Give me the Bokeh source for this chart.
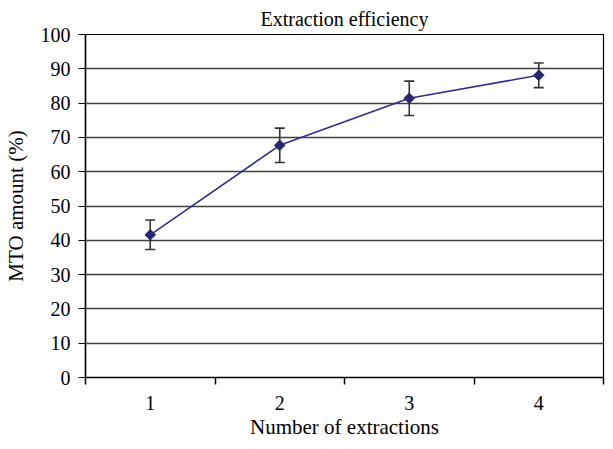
from bokeh.plotting import figure
from bokeh.models import Range1d, FixedTicker, ColumnDataSource, Whisker, TeeHead
from bokeh.embed import file_html
from bokeh.resources import INLINE
import numpy as np

# Data
extractions = [1, 2, 3, 4]
x_labels = ["1", "2", "3", "4"]
mto_amount = [41.6, 67.7, 81.4, 88.1]
mto_error = [4.3, 5.0, 5.0, 3.6]
y_ticks = [0, 10, 20, 30, 40, 50, 60, 70, 80, 90, 100]

FONT = "Liberation Serif"

x_lo, x_hi = extractions[0] - 0.5, extractions[-1] + 0.5

p = figure(width=605, height=441, output_backend="svg", toolbar_location=None,
           x_range=Range1d(x_lo, x_hi), y_range=Range1d(y_ticks[0], y_ticks[-1]),
           min_border_left=82, min_border_right=2, min_border_top=28,
           min_border_bottom=0)

p.title.text = "Extraction efficiency"
p.title.align = "center"
p.title.text_font = FONT
p.title.text_font_size = "20px"
p.title.text_font_style = "normal"
p.title.text_color = "black"
p.title.offset = -8

p.outline_line_color = "black"
p.outline_line_width = 1.2
p.background_fill_color = "white"
p.border_fill_color = "white"

# x axis: labels at category centres, ticks between categories
p.xaxis.ticker = FixedTicker(ticks=extractions,
                             minor_ticks=[e - 0.5 for e in extractions] + [x_hi])
p.xaxis.major_label_overrides = {e: l for e, l in zip(extractions, x_labels)}
p.xaxis.major_tick_line_color = None
p.xaxis.major_tick_out = 7
p.xaxis.major_tick_in = 0
p.xaxis.minor_tick_line_color = "black"
p.xaxis.minor_tick_line_width = 1.5
p.xaxis.minor_tick_out = 7
p.xaxis.minor_tick_in = 0
p.xaxis.axis_label = "Number of extractions"
p.xaxis.major_label_standoff = 11
p.xaxis.axis_label_standoff = 2

# y axis
p.yaxis.ticker = FixedTicker(ticks=y_ticks)
p.yaxis.minor_tick_line_color = None
p.yaxis.major_tick_out = 7
p.yaxis.major_tick_in = 0
p.yaxis.major_tick_line_width = 1.2
p.yaxis.major_label_standoff = 8
p.yaxis.axis_label = "MTO amount (%)"
p.yaxis.axis_label_standoff = 10

for ax in (p.xaxis, p.yaxis):
    ax.axis_line_color = "black"
    ax.axis_line_width = 1.5
    ax.major_label_text_font = FONT
    ax.major_label_text_font_size = "20px"
    ax.major_label_text_color = "black"
    ax.axis_label_text_font = FONT
    ax.axis_label_text_font_size = "21px"
    ax.axis_label_text_font_style = "normal"
    ax.axis_label_text_color = "black"

p.xgrid.grid_line_color = None
p.ygrid.grid_line_color = "#404040"
p.ygrid.grid_line_width = 1.3

mean = np.array(mto_amount)
err = np.array(mto_error)
src = ColumnDataSource(dict(x=extractions, y=mto_amount,
                            upper=mean + err, lower=mean - err))

p.line("x", "y", source=src, line_color="#2e3087", line_width=1.6)

whisker = Whisker(source=src, base="x", upper="upper", lower="lower",
                  dimension="height", line_color="#333333", line_width=1.6,
                  upper_head=TeeHead(size=10, line_color="#333333", line_width=1.6),
                  lower_head=TeeHead(size=10, line_color="#333333", line_width=1.6))
p.add_layout(whisker)

p.scatter("x", "y", source=src, marker="square", angle=np.pi / 4, size=7.5,
          fill_color="#25276f", line_color="#25276f")

open("out.html", "w").write(file_html(p, INLINE))
